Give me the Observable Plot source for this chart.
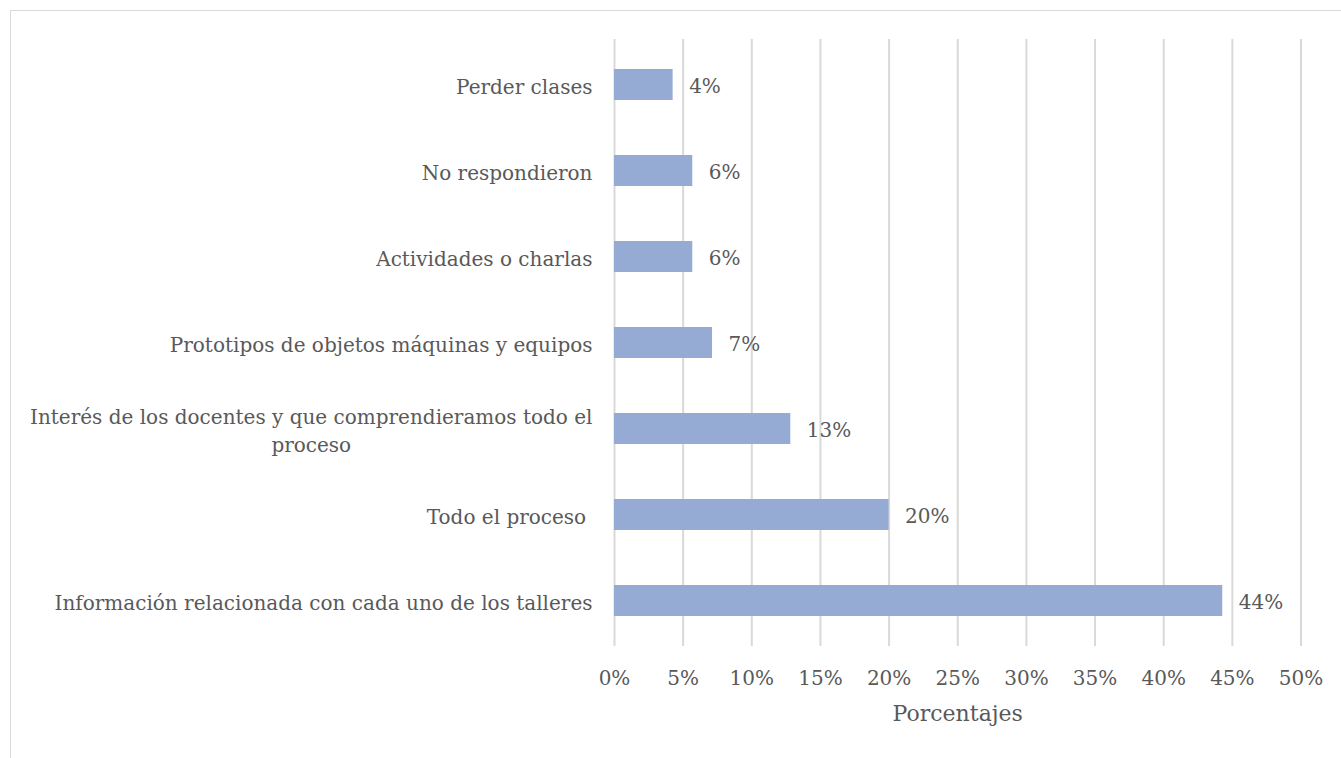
<!DOCTYPE html>
<html>
<head>
<meta charset="utf-8">
<script src="https://cdn.jsdelivr.net/npm/d3@7"></script>
<script src="https://cdn.jsdelivr.net/npm/@observablehq/plot@0.6"></script>
<style>
  html, body { margin: 0; padding: 0; background: #fff; overflow: hidden; }
  #frame { position: absolute; left: 9.5px; top: 9.5px; width: 1400px; height: 800px; border: 1.6px solid #d9d9d9; box-sizing: border-box; }
  #chart { position: absolute; left: 0; top: 0; }
</style>
</head>
<body>
<div id="frame"></div>
<div id="chart"></div>
<script>
const categories = [
  "Perder clases",
  "No respondieron",
  "Actividades o charlas",
  "Prototipos de objetos máquinas y equipos",
  "Interés de los docentes y que comprendieramos todo el\nproceso",
  "Todo el proceso\u00a0",
  "Información relacionada con cada uno de los talleres"
];
const values = [4.27, 5.7, 5.7, 7.14, 12.84, 20.0, 44.3];
const labels = ["4%", "6%", "6%", "7%", "13%", "20%", "44%"];
const xTicks = [0, 5, 10, 15, 20, 25, 30, 35, 40, 45, 50];
const xTitle = "Porcentajes";

const data = categories.map((c, i) => ({cat: c, value: values[i], label: labels[i]}));

const FONT = "'DejaVu Serif', serif";
const TXT = "#595959";
const FS = 20;

const chart = Plot.plot({
  width: 1341,
  height: 758,
  marginLeft: 614,
  marginRight: 40.5,
  marginTop: 39,
  marginBottom: 112,
  style: {fontFamily: FONT, fontSize: FS + "px", color: TXT, background: "transparent", overflow: "visible"},
  x: {domain: [0, 50], ticks: xTicks, tickFormat: d => d + "%"},
  y: {domain: categories, paddingInner: 0.642, paddingOuter: 0.321},
  marks: [
    Plot.gridX(xTicks, {stroke: "#d9d9d9", strokeOpacity: 1, strokeWidth: 2}),
    Plot.barX(data, {x: "value", y: "cat", fill: "#95abd3"}),
    Plot.text(data, {x: "value", y: "cat", text: "label", textAnchor: "start", dx: 16, dy: 2, fill: TXT, fontSize: FS}),
    Plot.axisX({ticks: xTicks, tickSize: 0, tickPadding: 24, tickFormat: d => d + "%", fontSize: FS, fill: TXT, label: null}),
    Plot.axisY({tickSize: 0, tickPadding: 22, fontSize: FS, fill: TXT, label: null, lineHeight: 1.4}),
    Plot.text([xTitle], {frameAnchor: "bottom", dy: 74, text: d => d, fontSize: 22, fill: TXT})
  ]
});
document.getElementById("chart").appendChild(chart);

// Center multi-line category labels (Excel-style), right-aligned as a block
chart.querySelectorAll("g[aria-label='y-axis tick label'] text").forEach(t => {
  const spans = t.querySelectorAll("tspan");
  if (spans.length > 1) {
    let maxW = 0;
    spans.forEach(s => { maxW = Math.max(maxW, s.getComputedTextLength()); });
    t.setAttribute("text-anchor", "middle");
    const x = parseFloat(t.getAttribute("x") || 0);
    t.setAttribute("x", x - maxW / 2);
    spans.forEach(s => { if (s.hasAttribute("x")) s.setAttribute("x", x - maxW / 2); });
  }
});
</script>
</body>
</html>
